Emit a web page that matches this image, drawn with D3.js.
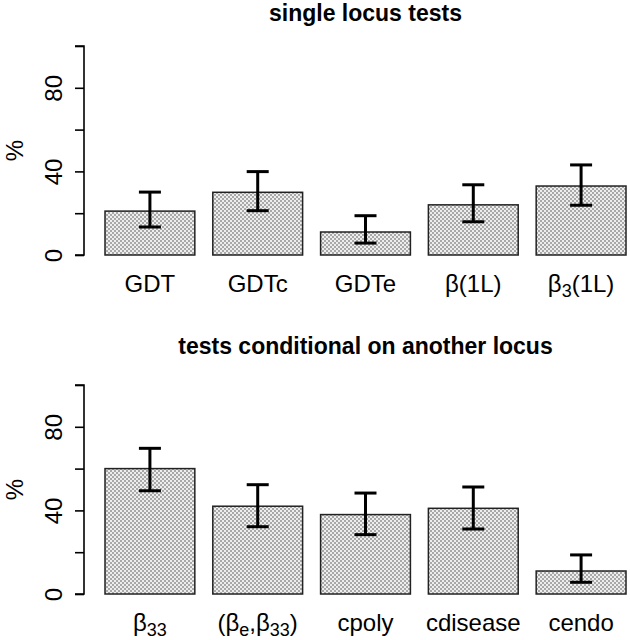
<!DOCTYPE html>
<html><head><meta charset="utf-8">
<script src="https://cdn.jsdelivr.net/npm/d3@7"></script>
<style>body{margin:0;background:#fff}svg{display:block}</style>
</head><body>
<svg id="c" width="630" height="640"></svg>
<script>
// ---- data ----
const titles = ["single locus tests", "tests conditional on another locus"];
// label parts: [text, isSubscript]
const labels1 = [
  [["GDT",0]], [["GDTc",0]], [["GDTe",0]],
  [["β(1L)",0]], [["β",0],["3",1],["(1L)",0]]
];
const labels2 = [
  [["β",0],["33",1]],
  [["(β",0],["e",1],[",β",0],["33",1],[")",0]],
  [["cpoly",0]], [["cdisease",0]], [["cendo",0]]
];
const values1 = [21, 30, 11, 24, 33];
const lower1  = [13.4, 21.2, 5.7, 15.9, 23.8];
const upper1  = [30.1, 39.9, 18.8, 33.6, 43.1];
const values2 = [60, 42, 38, 41, 11];
const lower2  = [49.4, 32.2, 28.4, 31.1, 5.6];
const upper2  = [69.7, 52.3, 48.3, 51.2, 18.7];
const yTicks = [0, 20, 40, 60, 80, 100];
const yTickLabels = [0, 40, 80];
const yLabel = "%";

const svg = d3.select("#c");
const font = "'Liberation Sans', Arial, Helvetica, sans-serif";

// pattern fill
const defs = svg.append("defs");
const pat = defs.append("pattern").attr("id","dots").attr("patternUnits","userSpaceOnUse")
  .attr("width",4).attr("height",4);
pat.append("rect").attr("width",4).attr("height",4).attr("fill","#eeeeee");
pat.append("rect").attr("width",2).attr("height",2).attr("fill","#a8a8a8");
pat.append("rect").attr("x",2).attr("y",2).attr("width",2).attr("height",2).attr("fill","#a8a8a8");

const x = d3.scaleLinear().domain([0.2, 6.0]).range([105, 626]);
const plotLeft = x(0.2 - 0.04*5.8);
const plotRight = x(6.0 + 0.04*5.8);

function panel(y0, y1, title, titleY, labels, vals, lo, hi) {
  const y = d3.scaleLinear().domain([0, 100]).range([y0, y1]);
  const g = svg.append("g");
  g.append("text").attr("x", (plotLeft+plotRight)/2).attr("y", titleY)
    .attr("text-anchor","middle").attr("font-family",font).attr("font-weight","bold")
    .attr("font-size",23).text(title);
  // axis
  const ax = g.append("g").attr("transform",`translate(${Math.round(plotLeft)},0)`)
    .call(d3.axisLeft(y).tickValues(yTicks).tickSize(9).tickFormat(""));
  ax.select(".domain").attr("stroke","#000").attr("stroke-width",1.6).attr("d",`M-9,${y(0)}H0V${y(100)}H-9`);
  ax.selectAll(".tick line").attr("stroke","#000").attr("stroke-width",1.6);
  ax.selectAll(".tick").filter(d=>yTickLabels.includes(d)).append("text")
    .attr("transform","translate(-22,0) rotate(-90)")
    .attr("text-anchor","middle").attr("fill","#000").attr("font-family",font)
    .attr("font-size",24).text(d=>d);
  g.append("text").attr("transform",`translate(23,${(y(0)+y(100))/2}) rotate(-90)`)
    .attr("text-anchor","middle").attr("font-family",font).attr("font-size",24).text(yLabel);
  // bars
  const idx = d3.range(vals.length);
  g.selectAll("rect.bar").data(idx).join("rect").attr("class","bar")
    .attr("x", i => x(0.2 + i*1.2)).attr("width", i => x(1.2 + i*1.2) - x(0.2 + i*1.2))
    .attr("y", i => y(vals[i])).attr("height", i => y(0) - y(vals[i]))
    .attr("fill","url(#dots)").attr("stroke","#222").attr("stroke-width",1.5);
  // error bars
  const cx = i => x(0.7 + i*1.2);
  const eb = g.selectAll("g.eb").data(idx).join("g").attr("stroke","#000").attr("stroke-width",3);
  eb.append("line").attr("x1",cx).attr("x2",cx).attr("y1",i=>y(lo[i])).attr("y2",i=>y(hi[i]));
  eb.append("line").attr("x1",i=>cx(i)-11).attr("x2",i=>cx(i)+11).attr("y1",i=>y(lo[i])).attr("y2",i=>y(lo[i]));
  eb.append("line").attr("x1",i=>cx(i)-11).attr("x2",i=>cx(i)+11).attr("y1",i=>y(hi[i])).attr("y2",i=>y(hi[i]));
  // labels
  idx.forEach(i => {
    const t = g.append("text").attr("x", cx(i)).attr("y", y(0)+37).attr("text-anchor","middle")
      .attr("font-family",font).attr("font-size",24);
    let shifted = false;
    labels[i].forEach(([s, sub]) => {
      const ts = t.append("tspan").text(s);
      if (sub) { ts.attr("font-size",18).attr("dy",5); shifted = true; }
      else if (shifted) { ts.attr("dy",-5); shifted = false; }
    });
  });
}

panel(255, 46, titles[0], 21, labels1, values1, lower1, upper1);
panel(594, 385, titles[1], 354, labels2, values2, lower2, upper2);
</script>
</body></html>
